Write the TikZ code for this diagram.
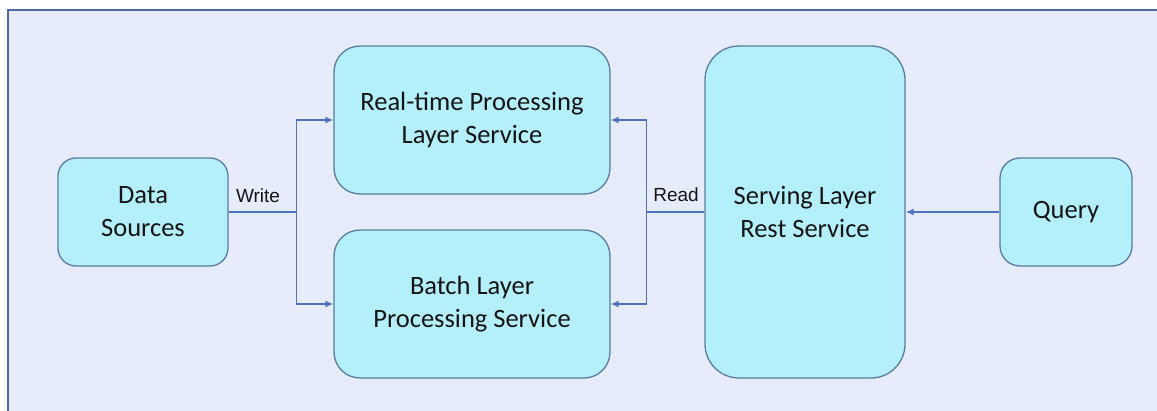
\documentclass[tikz,border=0pt]{standalone}
\usepackage{fontspec}
\setmainfont{Carlito}
\newfontfamily\labelfont{Liberation Sans}
\usetikzlibrary{arrows.meta}
\definecolor{canvas}{HTML}{E6ECFC}
\definecolor{framecol}{HTML}{4A6AA8}
\definecolor{boxfill}{HTML}{B4F0FB}
\definecolor{boxline}{HTML}{5A7C9E}
\definecolor{linkcol}{HTML}{4C74BE}
\definecolor{inkcol}{HTML}{141414}
\tikzset{
  svc/.style={draw=boxline, fill=boxfill, line width=1.3pt, align=center,
    text=inkcol, font=\fontsize{26.5}{33}\selectfont, inner sep=0pt},
  link/.style={draw=linkcol, line width=1.6pt},
  arr/.style={link, -{Latex[length=8pt,width=7pt]}},
  tag/.style={font=\labelfont\fontsize{19}{22}\selectfont, text=inkcol, inner sep=0pt}
}
\begin{document}
\begin{tikzpicture}[x=1pt,y=-1pt]
  \useasboundingbox (0,0) rectangle (1157,410);
  % page background and frame
  \fill[canvas] (8,10) rectangle (1160,415);
  \draw[framecol, line width=2pt] (8,415) -- (8,10) -- (1160,10);

  % services
  \node[svc, minimum width=170pt, minimum height=108pt, rounded corners=18pt]
    (ds) at (143,212) {Data\\Sources};
  \node[svc, minimum width=276pt, minimum height=148pt, rounded corners=26pt]
    (rt) at (472,120) {Real-time Processing\\Layer Service};
  \node[svc, minimum width=276pt, minimum height=148pt, rounded corners=26pt]
    (bt) at (472,304) {Batch Layer\\Processing Service};
  \node[svc, minimum width=200pt, minimum height=332pt, rounded corners=34pt]
    (sv) at (805,212) {Serving Layer\\Rest Service};
  \node[svc, minimum width=132pt, minimum height=108pt, rounded corners=20pt]
    (qy) at (1066,212) {Query};

  % write path
  \draw[link] (ds.east) -- ++(68,0) coordinate (wj);
  \draw[arr] (wj) |- (rt.west);
  \draw[arr] (wj) |- (bt.west);
  \node[tag] (wl) at (258,196) {Write};

  % read path
  \draw[link] (sv.west) -- ++(-58,0) coordinate (rj);
  \draw[arr] (rj) |- (rt.east);
  \draw[arr] (rj) |- (bt.east);
  \node[tag] (rl) at (676,195) {Read};

  % query path
  \draw[arr] (qy.west) -- (sv.east);
\end{tikzpicture}
\end{document}
